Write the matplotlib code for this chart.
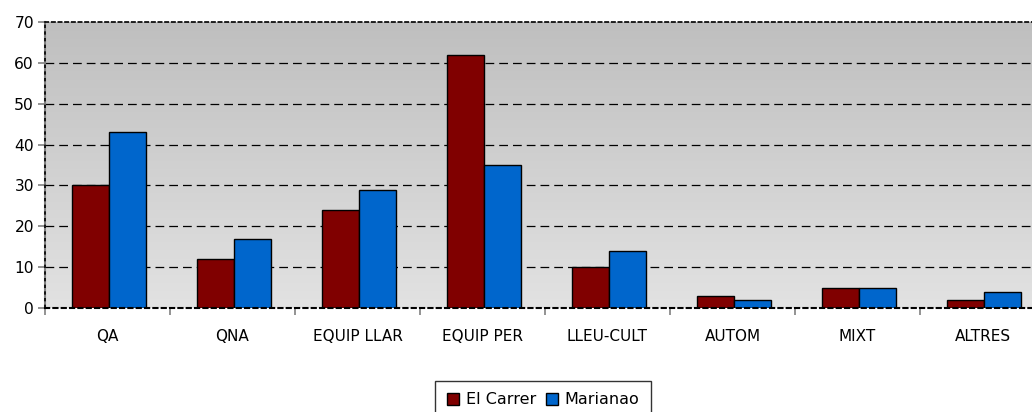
import numpy as np
import matplotlib
matplotlib.use("Agg")
import matplotlib.pyplot as plt
from matplotlib.colors import LinearSegmentedColormap

categories = ["QA", "QNA", "EQUIP LLAR", "EQUIP PER", "LLEU-CULT", "AUTOM", "MIXT", "ALTRES"]
el_carrer = [30, 12, 24, 62, 10, 3, 5, 2]
marianao = [43, 17, 29, 35, 14, 2, 5, 4]
series_names = ["El Carrer", "Marianao"]
yticks = [0, 10, 20, 30, 40, 50, 60, 70]

plt.rcParams['font.family'] = ['DejaVu Sans']
fig = plt.figure(figsize=(10.32, 4.12), dpi=100)
ax = fig.add_axes([45/1032, 1 - 308/412, 1000/1032, 286/412])

n = len(categories)
x = np.arange(n)
w = 0.295

# gradient background
cmap = LinearSegmentedColormap.from_list("g", ["#e2e2e2", "#bfbfbf"])
grad = np.linspace(0, 1, 256).reshape(-1, 1)
ax.imshow(grad, aspect='auto', cmap=cmap, origin='lower',
          extent=[-0.5, n - 0.5, 0, 70], zorder=0)

for yv in yticks[1:-1]:
    ax.axhline(yv, color='black', lw=0.9, ls=(0, (7, 4)), zorder=1)

ax.bar(x - w/2 + 0.01, el_carrer, w, color='#800000', edgecolor='black', lw=1, zorder=2, label=series_names[0])
ax.bar(x + w/2 + 0.01, marianao, w, color='#0066cc', edgecolor='black', lw=1, zorder=2, label=series_names[1])

ax.set_xlim(-0.5, n - 0.5)
ax.set_ylim(0, 70)
ax.set_yticks(yticks)
ax.set_yticklabels([str(v) for v in yticks], fontsize=11.2)
ax.set_xticks(x)
ax.set_xticklabels(categories, fontsize=11)
ax.tick_params(axis='x', length=0, pad=15)
ax.set_xticks(np.arange(n + 1) - 0.5, minor=True)
ax.tick_params(axis='x', which='minor', length=5, color='#808080', width=1.2)
ax.tick_params(axis='y', length=5, color='#808080', width=1.2, pad=3)

for side in ['top', 'right']:
    ax.spines[side].set_linestyle((0, (2, 2)))
    ax.spines[side].set_color('black')
    ax.spines[side].set_linewidth(1.2)
ax.spines['left'].set_color('#808080')
ax.spines['left'].set_linewidth(1.5)
ax.spines['bottom'].set_color('black')
ax.spines['bottom'].set_linestyle((0, (2, 2)))
ax.spines['bottom'].set_linewidth(1.5)
ax.axvline(-0.5, color='black', lw=1.2, ls=(0, (2, 2)), zorder=3, clip_on=False)

leg = fig.legend(loc='upper center', bbox_to_anchor=(543/1032, 1 - 381/412), ncol=2,
                 fontsize=11.5, frameon=True, fancybox=False, edgecolor='black',
                 handlelength=0.8, handleheight=0.8, handletextpad=0.4, columnspacing=0.6,
                 borderpad=0.7, borderaxespad=0)
leg.get_frame().set_linewidth(1)

fig.savefig("out.png", dpi=100)
